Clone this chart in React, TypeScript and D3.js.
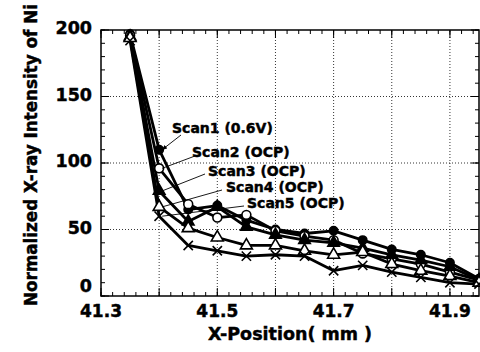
import React from 'react';
import * as d3 from 'd3';

// x positions of the scan points (mm)
const xPositions = [41.35, 41.40, 41.45, 41.50, 41.55, 41.60, 41.65, 41.70, 41.75, 41.80, 41.85, 41.90, 41.95];

// normalized Ni intensity
const scan1 = [197, 110, 65, 68, 57, 50, 47, 49, 42, 35, 31, 25, 13];
const scan2 = [196, 96, 69, 59, 61, 49, 45, 42, 32, 28, 24, 18, 12];
const scan3 = [195, 79, 56, 67, 52, 46, 42, 40, 36, 31, 27, 22, 12];
const scan4 = [194, 67, 51, 44, 38, 38, 34, 31, 33, 24, 19, 15, 10];
const scan5 = [192, 60, 38, 34, 30, 31, 30, 19, 23, 18, 14, 10, 9];

const seriesNames = ['Scan1 (0.6V)', 'Scan2 (OCP)', 'Scan3 (OCP)', 'Scan4 (OCP)', 'Scan5 (OCP)'];
const yTickValues = [0, 50, 100, 150, 200];
const xTickLabels = [41.3, 41.5, 41.7, 41.9];

const W = 480;
const H = 352;
const margin = { top: 30, right: 1, bottom: 56, left: 101 };
const FONT = '"DejaVu Sans", sans-serif';

// label placement (left x, middle y) and leader start points
const labelPos = [
    { x: 172, y: 128, lx: 181, ly: 135 },
    { x: 192, y: 152, lx: 195, ly: 156 },
    { x: 208, y: 171, lx: 205, ly: 174 },
    { x: 226, y: 187, lx: 222, ly: 190 },
    { x: 247, y: 203, lx: 244, ly: 206 },
];

function App() {
    const x = d3.scaleLinear()
        .domain([41.3, 41.95])
        .range([margin.left, W - margin.right]);

    const y = d3.scaleLinear()
        .domain([0, 200])
        .range([H - margin.bottom, margin.top]);

    const x0 = margin.left, x1 = W - margin.right;
    const y0 = H - margin.bottom, y1 = margin.top;

    const series = [scan1, scan2, scan3, scan4, scan5];
    const line = d3.line<number>()
        .x((_, i) => x(xPositions[i]))
        .y(d => y(d));

    const symbols = [
        { type: d3.symbolCircle, size: 55, fill: '#000', stroke: '#000' },
        { type: d3.symbolCircle, size: 62, fill: '#fff', stroke: '#000' },
        { type: d3.symbolTriangle, size: 58, fill: '#000', stroke: '#000' },
        { type: d3.symbolTriangle, size: 62, fill: '#fff', stroke: '#000' },
        { type: d3.symbolX, size: 58, fill: 'none', stroke: '#000' },
    ];

    const xMinor = d3.range(41.3, 41.951, 0.02);
    const xMajor = d3.range(41.3, 41.951, 0.1);
    const yMinor = d3.range(0, 201, 10);
    const yMajor = d3.range(0, 201, 50);
    const xGrid = d3.range(41.4, 41.91, 0.1);
    const yGrid = [50, 100, 150];

    const textStyle = { fontFamily: FONT, fontWeight: 'bold' as const, stroke: '#000', strokeWidth: 0.45, fill: '#000' };

    return (
        <svg width={W} height={H} style={{ position: 'absolute', left: 0, top: 0, background: '#fff' }}>
            <defs>
                <marker id="arr" viewBox="0 0 10 10" refX="9" refY="5" markerWidth="6" markerHeight="6" orient="auto">
                    <path d="M0,1 L10,5 L0,9 Z" fill="#000" />
                </marker>
            </defs>

            {/* dotted grid */}
            <g stroke="#000" strokeWidth={0.8} strokeDasharray="1,2">
                {xGrid.map(v => (
                    <line key={'gx' + v} x1={x(v)} x2={x(v)} y1={y0} y2={y1} />
                ))}
                {yGrid.map(v => (
                    <line key={'gy' + v} x1={x0} x2={x1} y1={y(v)} y2={y(v)} />
                ))}
            </g>

            {/* ticks, inward on every side */}
            <g stroke="#000" strokeWidth={1}>
                {xMinor.map(v => (
                    <g key={'xm' + v}>
                        <line x1={x(v)} x2={x(v)} y1={y0} y2={y0 - 4} />
                        <line x1={x(v)} x2={x(v)} y1={y1} y2={y1 + 4} />
                    </g>
                ))}
                {xMajor.map(v => (
                    <g key={'xM' + v}>
                        <line x1={x(v)} x2={x(v)} y1={y0} y2={y0 - 8} />
                        <line x1={x(v)} x2={x(v)} y1={y1} y2={y1 + 8} />
                    </g>
                ))}
                {yMinor.map(v => (
                    <g key={'ym' + v}>
                        <line x1={x0} x2={x0 + 4} y1={y(v)} y2={y(v)} />
                        <line x1={x1} x2={x1 - 4} y1={y(v)} y2={y(v)} />
                    </g>
                ))}
                {yMajor.map(v => (
                    <g key={'yM' + v}>
                        <line x1={x0} x2={x0 + 8} y1={y(v)} y2={y(v)} />
                        <line x1={x1} x2={x1 - 8} y1={y(v)} y2={y(v)} />
                    </g>
                ))}
            </g>

            <rect x={x0} y={y1} width={x1 - x0} height={y0 - y1} fill="none" stroke="#000" strokeWidth={1.5} />

            {/* series lines */}
            {series.map((s, i) => (
                <path key={'l' + i} d={line(s) || ''} fill="none" stroke="#000" strokeWidth={2.8} strokeLinejoin="round" />
            ))}

            {/* markers */}
            {series.map((s, i) => (
                <g key={'m' + i}>
                    {s.map((v, j) => (
                        <path key={j}
                            transform={`translate(${x(xPositions[j])},${y(v)})`}
                            d={d3.symbol().type(symbols[i].type).size(symbols[i].size)() || ''}
                            fill={symbols[i].fill}
                            stroke={symbols[i].stroke}
                            strokeWidth={1.6} />
                    ))}
                </g>
            ))}

            {/* annotations */}
            {seriesNames.map((name, i) => (
                <g key={'a' + i}>
                    <line x1={labelPos[i].lx} y1={labelPos[i].ly}
                        x2={x(xPositions[1]) + 3} y2={y(series[i][1])}
                        stroke="#000" strokeWidth={0.9} markerEnd={i === 0 ? 'url(#arr)' : undefined} />
                    <text x={labelPos[i].x} y={labelPos[i].y + 5} fontSize={14} {...textStyle}>{name}</text>
                </g>
            ))}

            {/* y tick labels */}
            {yTickValues.map(v => (
                <text key={'yt' + v} x={92} y={y(v) + (v === 0 ? -4 : 4)} textAnchor="end"
                    fontSize={17.5} {...textStyle}>{v}</text>
            ))}

            {/* x tick labels */}
            {xTickLabels.map(v => (
                <text key={'xt' + v} x={x(v)} y={317} textAnchor="middle"
                    fontSize={17} {...textStyle}>{d3.format('.1f')(v)}</text>
            ))}

            <text x={290} y={340} textAnchor="middle" fontSize={17.5} {...textStyle}>X-Position( mm )</text>
            <text transform="translate(37,155) rotate(-90)" textAnchor="middle" fontSize={16.8} {...textStyle}>Normalized X-ray Intensity of Ni</text>
        </svg>
    );
}

export default App;
